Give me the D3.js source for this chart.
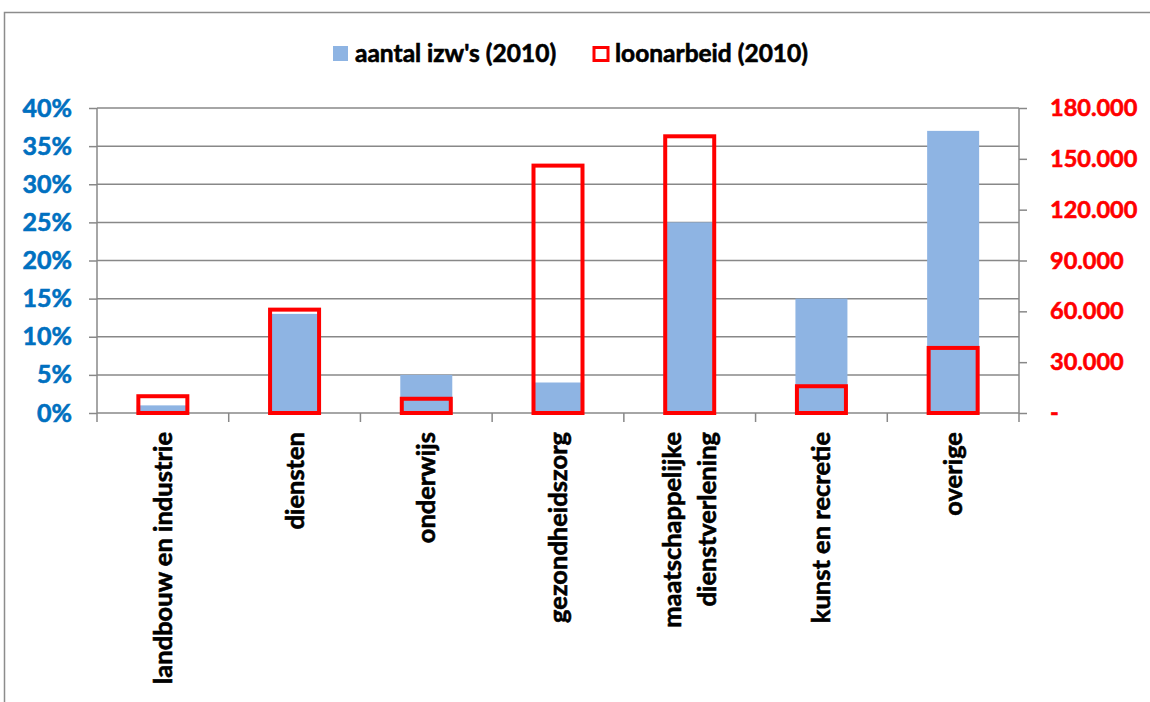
<!DOCTYPE html>
<html>
<head>
<meta charset="utf-8">
<script src="https://cdn.jsdelivr.net/npm/d3@7"></script>
<style>
  body { margin: 0; background: #fff; }
  svg { display: block; font-family: Lato, 'Open Sans', sans-serif; font-weight: bold; }
</style>
</head>
<body>
<svg id="chart" width="1150" height="702"></svg>
<script>
// categories and values
const categories = [
  ['landbouw en industrie'],
  ['diensten'],
  ['onderwijs'],
  ['gezondheidszorg'],
  ['maatschappelijke', 'dienstverlening'],
  ['kunst en recretie'],
  ['overige']
];
const izwShare = [0.01, 0.13, 0.05, 0.04, 0.25, 0.15, 0.37];   // aantal izw's (2010)
const loonarbeid = [9900, 61000, 8400, 146000, 163300, 15800, 38400]; // loonarbeid (2010)
const leftTicks = [0, 0.05, 0.10, 0.15, 0.20, 0.25, 0.30, 0.35, 0.40];
const rightTicks = [0, 30000, 60000, 90000, 120000, 150000, 180000];
const seriesNames = ["aantal izw's (2010)", 'loonarbeid (2010)'];

const config = {
  left: 97,
  right: 1019,
  top: 108,
  bottom: 413,
  blue: '#8eb4e3',
  red: '#ff0000',
  axisBlue: '#0070c0',
  grid: '#888888'
};

const svg = d3.select('#chart');

// make Lato bold look a bit heavier, like the original
const heavy = (sel, color) => sel
  .attr('fill', color)
  .attr('stroke', color)
  .attr('stroke-width', 0.6)
  .attr('paint-order', 'stroke');

// outer frame (only top and left edge visible)
svg.append('path')
  .attr('d', 'M4.5,702 V12.5 H1150')
  .attr('fill', 'none')
  .attr('stroke', '#8c8c8c')
  .attr('stroke-width', 1.5);

const x = d3.scaleBand()
  .domain(d3.range(categories.length))
  .range([config.left, config.right]);

const yLeft = d3.scaleLinear().domain([0, 0.4]).range([config.bottom, config.top]);
const yRight = d3.scaleLinear().domain([0, 180000]).range([config.bottom, config.top]);

const nl = d3.formatLocale({ decimal: ',', thousands: '.', grouping: [3], currency: ['', ''] });
const fmtRight = d => d === 0 ? '-' : nl.format(',.0f')(d);

// gridlines
svg.append('g')
  .selectAll('line')
  .data(leftTicks)
  .join('line')
  .attr('x1', config.left)
  .attr('x2', config.right)
  .attr('y1', d => yLeft(d))
  .attr('y2', d => yLeft(d))
  .attr('stroke', config.grid)
  .attr('stroke-width', 1.5);

// left axis
const gLeft = svg.append('g')
  .attr('transform', `translate(${config.left},0)`)
  .call(d3.axisLeft(yLeft).tickValues(leftTicks).tickFormat(d3.format('.0%')).tickSize(8).tickPadding(17));
gLeft.select('.domain').remove();
gLeft.append('line').attr('y1', config.top).attr('y2', config.bottom + 9);
gLeft.selectAll('line').attr('stroke', config.grid).attr('stroke-width', 1.5);
gLeft.selectAll('text')
  .call(heavy, config.axisBlue)
  .style('font-size', '25px')
  .style('font-family', 'Lato, sans-serif');

// right axis
const gRight = svg.append('g')
  .attr('transform', `translate(${config.right},0)`)
  .call(d3.axisRight(yRight).tickValues(rightTicks).tickFormat(fmtRight).tickSize(8).tickPadding(23));
gRight.select('.domain').remove();
gRight.append('line').attr('y1', config.top).attr('y2', config.bottom + 9);
gRight.selectAll('line').attr('stroke', config.grid).attr('stroke-width', 1.5);
gRight.selectAll('text')
  .call(heavy, config.red)
  .style('font-size', '23.5px')
  .style('font-family', 'Lato, sans-serif');

// category ticks
svg.append('g')
  .selectAll('line')
  .data(d3.range(1, categories.length))
  .join('line')
  .attr('x1', d => x(d))
  .attr('x2', d => x(d))
  .attr('y1', config.bottom)
  .attr('y2', config.bottom + 9)
  .attr('stroke', config.grid)
  .attr('stroke-width', 1.5);

// bars
const barW = 52;
svg.append('g')
  .selectAll('rect')
  .data(izwShare)
  .join('rect')
  .attr('x', (d, i) => x(i) + x.bandwidth() / 2 - barW / 2)
  .attr('width', barW)
  .attr('y', d => yLeft(d))
  .attr('height', d => config.bottom - yLeft(d))
  .attr('fill', config.blue);

const redW = 49;
svg.append('g')
  .selectAll('rect')
  .data(loonarbeid)
  .join('rect')
  .attr('x', (d, i) => x(i) + x.bandwidth() / 2 - redW / 2)
  .attr('width', redW)
  .attr('y', d => yRight(d))
  .attr('height', d => config.bottom - yRight(d))
  .attr('fill', 'none')
  .attr('stroke', config.red)
  .attr('stroke-width', 4);

// category labels, rotated
const labels = svg.append('g')
  .selectAll('g')
  .data(categories)
  .join('g')
  .attr('transform', (d, i) => `translate(${x(i) + x.bandwidth() / 2},432) rotate(-90)`);

labels.each(function (lines) {
  const g = d3.select(this);
  const lh = 35;
  lines.forEach((t, k) => {
    g.append('text')
      .attr('x', 0)
      .attr('y', (k - (lines.length - 1) / 2) * lh)
      .attr('dy', '0.35em')
      .attr('text-anchor', 'end')
      .call(heavy, '#000')
      .style('font-size', '25.5px')
      .text(t);
  });
});

// legend
const legend = svg.append('g').style('font-size', '24.5px');
legend.append('rect')
  .attr('x', 333).attr('y', 46).attr('width', 15).attr('height', 15)
  .attr('fill', config.blue);
legend.append('text')
  .attr('x', 355).attr('y', 62)
  .call(heavy, '#000')
  .text(seriesNames[0]);
legend.append('rect')
  .attr('x', 594).attr('y', 47.5).attr('width', 14).attr('height', 13)
  .attr('fill', 'none').attr('stroke', config.red).attr('stroke-width', 3);
legend.append('text')
  .attr('x', 615).attr('y', 62)
  .call(heavy, '#000')
  .text(seriesNames[1]);
</script>
</body>
</html>
